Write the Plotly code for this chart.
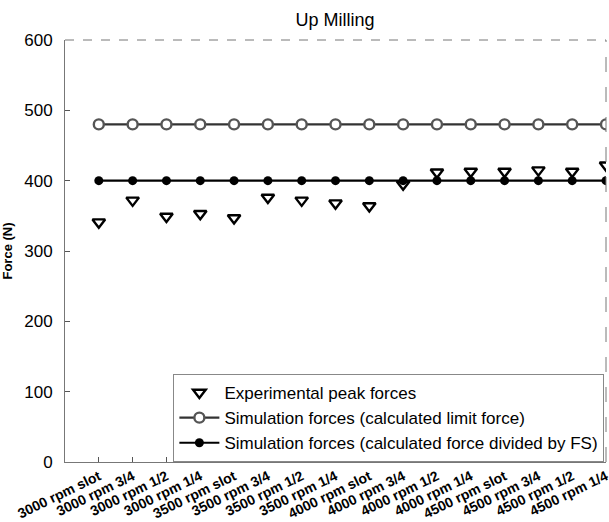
import plotly.graph_objects as go

# Cutting conditions (spindle speed / radial engagement)
conditions = [
    "3000 rpm slot", "3000 rpm 3/4", "3000 rpm 1/2", "3000 rpm 1/4",
    "3500 rpm slot", "3500 rpm 3/4", "3500 rpm 1/2", "3500 rpm 1/4",
    "4000 rpm slot", "4000 rpm 3/4", "4000 rpm 1/2", "4000 rpm 1/4",
    "4500 rpm slot", "4500 rpm 3/4", "4500 rpm 1/2", "4500 rpm 1/4",
]
experimental_peak = [341, 372, 349, 353, 347, 376, 372, 368,
                     364, 395, 412, 413, 413, 415, 413, 422]
limit_force = [480] * 16
force_div_fs = [400] * 16
y_ticks = [0, 100, 200, 300, 400, 500, 600]

idx = list(range(len(conditions)))
FONT = "Liberation Sans, Arial, sans-serif"

fig = go.Figure()
fig.add_trace(go.Scatter(
    x=idx, y=experimental_peak, mode="markers",
    name="Experimental peak forces",
    marker=dict(symbol="triangle-down-open", size=11, color="black",
                line=dict(width=2.4, color="black")),
))
fig.add_trace(go.Scatter(
    x=idx, y=limit_force, mode="lines+markers",
    name="Simulation forces (calculated limit force)",
    line=dict(color="#333333", width=2.2),
    marker=dict(symbol="circle", size=10, color="white",
                line=dict(width=2.4, color="#555555")),
))
fig.add_trace(go.Scatter(
    x=idx, y=force_div_fs, mode="lines+markers",
    name="Simulation forces (calculated force divided by FS)",
    line=dict(color="black", width=2.2),
    marker=dict(symbol="circle", size=9, color="black"),
))

# broken top and right frame lines
fig.add_shape(type="line", xref="paper", yref="paper", x0=0, x1=1, y0=1, y1=1,
              line=dict(color="#777777", width=1, dash="dash"))
fig.add_shape(type="line", xref="paper", yref="paper", x0=1, x1=1, y0=0, y1=1,
              line=dict(color="#777777", width=1, dash="longdash"))

fig.update_layout(
    width=609, height=522,
    margin=dict(l=65, r=3, t=40, b=60),
    paper_bgcolor="white", plot_bgcolor="white",
    font=dict(family=FONT, size=16, color="black"),
    title=dict(text="Up Milling", x=0.55, xanchor="center", y=0.962,
               yanchor="middle", font=dict(size=18, family=FONT)),
    showlegend=True,
    legend=dict(
        x=0.997, y=0.0, xanchor="right", yanchor="bottom",
        bgcolor="white", bordercolor="#888888", borderwidth=1,
        font=dict(size=17, family=FONT), tracegroupgap=0,
        itemwidth=40,
    ),
    xaxis=dict(
        range=[-1, 15], tickmode="array", tickvals=idx, ticktext=conditions,
        tickangle=-26, ticks="inside", ticklen=5, tickcolor="#555555",
        ticklabeloverflow="allow", automargin=False,
        showgrid=False, zeroline=False, showline=True, linecolor="#777777",
        linewidth=1, tickfont=dict(size=14, family=FONT, weight="bold"),
    ),
    yaxis=dict(
        range=[0, 600], tickmode="array", tickvals=y_ticks,
        ticks="inside", ticklen=5, tickcolor="#555555", automargin=False,
        showgrid=False, zeroline=False, showline=True, linecolor="#777777",
        linewidth=1, tickfont=dict(size=17, family=FONT),
        ticklabelstandoff=8,
        title=dict(text="<b>Force (N)</b>", font=dict(size=13, family=FONT),
                   standoff=10),
    ),
)

fig.write_html("out.html")
